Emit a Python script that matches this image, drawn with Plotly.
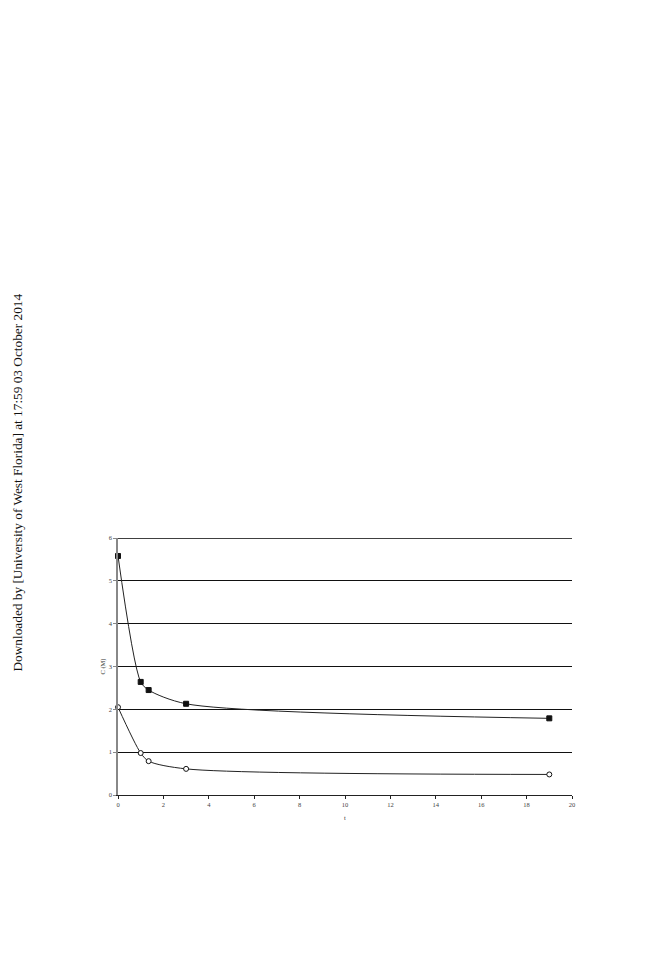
import plotly.graph_objects as go

t_vals = [0, 1, 1.35, 3, 19]
c_upper = [5.58, 2.64, 2.45, 2.13, 1.79]
c_lower = [2.05, 0.98, 0.79, 0.61, 0.48]
x_ticks = [0, 2, 4, 6, 8, 10, 12, 14, 16, 18, 20]
y_ticks = [0, 1, 2, 3, 4, 5, 6]
watermark = "Downloaded by [University of West Florida] at 17:59 03 October 2014"

W, H = 672, 960
OFF = 8  # page body margin
L, R, T, B = 118 - OFF, 100 + OFF, 538 - OFF, 165 + OFF
pw = W - L - R
ph = H - T - B

fig = go.Figure()
fig.add_trace(go.Scatter(
    x=t_vals, y=c_upper, mode="lines+markers",
    line=dict(color="#222", width=1, shape="spline", smoothing=0.8),
    marker=dict(symbol="square", size=5, color="#111", line=dict(color="#111", width=1)),
    showlegend=False, cliponaxis=False))
fig.add_trace(go.Scatter(
    x=t_vals, y=c_lower, mode="lines+markers",
    line=dict(color="#222", width=1, shape="spline", smoothing=0.8),
    marker=dict(symbol="circle", size=5, color="white", line=dict(color="#111", width=1)),
    showlegend=False, cliponaxis=False))

font_tick = dict(family="Liberation Serif, Times New Roman, serif", size=6.5, color="#444")
fig.update_layout(
    width=W, height=H,
    margin=dict(l=L, r=R, t=T, b=B),
    paper_bgcolor="white", plot_bgcolor="white",
    xaxis=dict(range=[0, 20], tickvals=x_ticks, ticks="outside", ticklen=3, tickcolor="#222",
               showgrid=False, zeroline=False, showline=True, linecolor="#222", linewidth=1,
               tickfont=font_tick,
               title=dict(text="t", font=dict(family="Liberation Serif, serif", size=6.5, color="#333"), standoff=8)),
    yaxis=dict(range=[0, 6], tickvals=y_ticks, ticks="outside", ticklen=3, tickcolor="#888",
               showgrid=True, gridcolor="#111", gridwidth=1, zeroline=False,
               showline=True, linecolor="#888", linewidth=1.5,
               tickfont=font_tick,
               title=dict(text="C (M)", font=dict(family="Liberation Serif, serif", size=6.5, color="#333"), standoff=2)),
    shapes=[dict(type="line", xref="paper", yref="y", x0=0, x1=1, y0=y_ticks[-1], y1=y_ticks[-1],
                 line=dict(color="#000", width=1.4), layer="above")],
    annotations=[dict(
        text=watermark, textangle=-90, xref="paper", yref="paper",
        x=(8.5 - L) / pw, y=((H - B) - (483 - OFF)) / ph, showarrow=False,
        font=dict(family="Liberation Serif, Times New Roman, serif", size=13.3, color="#111"),
        xanchor="center", yanchor="middle")],
)
fig.write_html("out.html")
